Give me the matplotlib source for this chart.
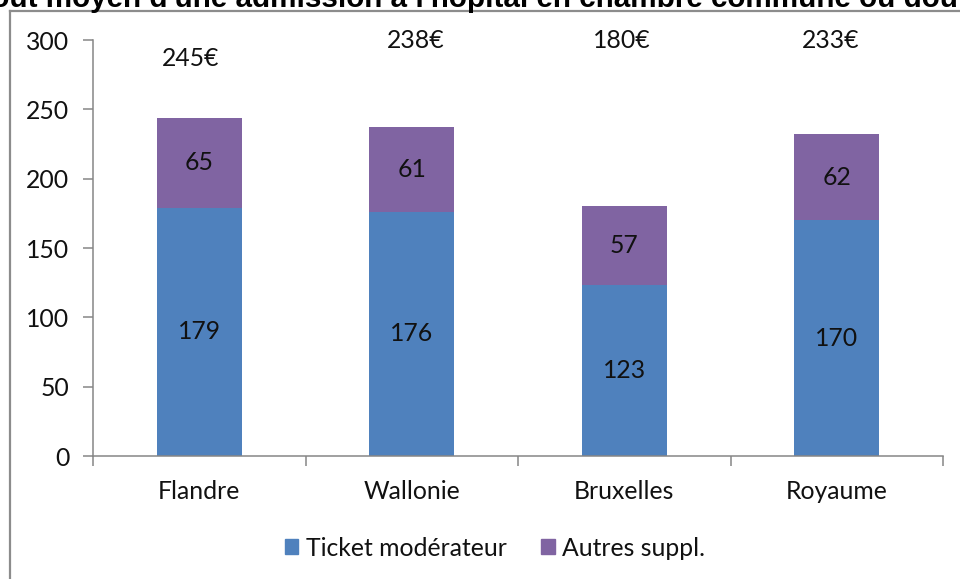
import matplotlib.pyplot as plt
import numpy as np
from matplotlib.patches import Patch
from matplotlib.lines import Line2D

regions = ["Flandre", "Wallonie", "Bruxelles", "Royaume"]
ticket = [179, 176, 123, 170]
autres = [65, 61, 57, 62]
totals = ["245€", "238€", "180€", "233€"]
series_names = ["Ticket modérateur", "Autres suppl."]
title = "Coût moyen d'une admission à l'hôpital en chambre commune ou double"

blue = "#4F81BD"
purple = "#8064A2"
grey = "#868686"
fs = 17.8

plt.rcParams['font.family'] = ['Lato', 'DejaVu Sans']

fig = plt.figure(figsize=(9.6, 5.79), dpi=100)
ax = fig.add_axes([93/960, 1-456/579, 850/960, 416/579])

x = np.arange(len(regions))
w = 0.4
ax.bar(x, ticket, w, color=blue, label=series_names[0])
ax.bar(x, autres, w, bottom=ticket, color=purple, label=series_names[1])

for i in range(len(regions)):
    ax.text(x[i], ticket[i]/2, str(ticket[i]), ha='center', va='center', fontsize=fs, color='#111111')
    ax.text(x[i], ticket[i] + autres[i]/2, str(autres[i]), ha='center', va='center', fontsize=fs, color='#111111')

# totals were placed by hand above the bars
tot_dx = [-0.04, 0.02, -0.01, -0.03]
tot_y = [287, 299.5, 299.5, 299.5]
for i in range(len(regions)):
    ax.text(x[i] + tot_dx[i], tot_y[i], totals[i], ha='center', va='center', fontsize=fs,
            color='#111111', clip_on=False)

ax.set_xlim(-0.5, 3.5)
ax.set_ylim(0, 300)
ax.set_yticks(range(0, 301, 50))
ax.set_xticks(x)
ax.set_xticklabels(regions)
ax.set_xticks(np.arange(-0.5, 4, 1), minor=True)
ax.tick_params(axis='x', which='major', length=0, pad=17, labelsize=fs, labelcolor='#111111')
ax.tick_params(axis='x', which='minor', length=7, width=1.1, color=grey, direction='out')
ax.tick_params(axis='y', length=7, width=1.1, color=grey, pad=10, labelsize=fs, labelcolor='#111111')
for s in ['top', 'right']:
    ax.spines[s].set_visible(False)
for s in ['left', 'bottom']:
    ax.spines[s].set_color(grey)
    ax.spines[s].set_linewidth(1.1)

handles = [Patch(color=blue), Patch(color=purple)]
fig.legend(handles, series_names, loc='center', bbox_to_anchor=(495/960, 1-548/579),
           ncol=2, frameon=False, fontsize=fs, handlelength=0.55, handleheight=0.55,
           handletextpad=0.3, columnspacing=1.4, labelcolor='#111111')

# outer chart border (cropped screenshot)
fig.add_artist(Line2D([10/960, 1], [1-11/579, 1-11/579], color='#8c8c8c', lw=1.6, transform=fig.transFigure))
fig.add_artist(Line2D([10/960, 10/960], [0, 1-11/579], color='#8c8c8c', lw=1.6, transform=fig.transFigure))

# title, cut off at the top of the picture
fig.text(-30/960, 1-7/579, title, ha='left', va='baseline', fontsize=21.3,
         fontweight='bold', family='Liberation Sans', color='black')

fig.savefig("out.png", dpi=100)
